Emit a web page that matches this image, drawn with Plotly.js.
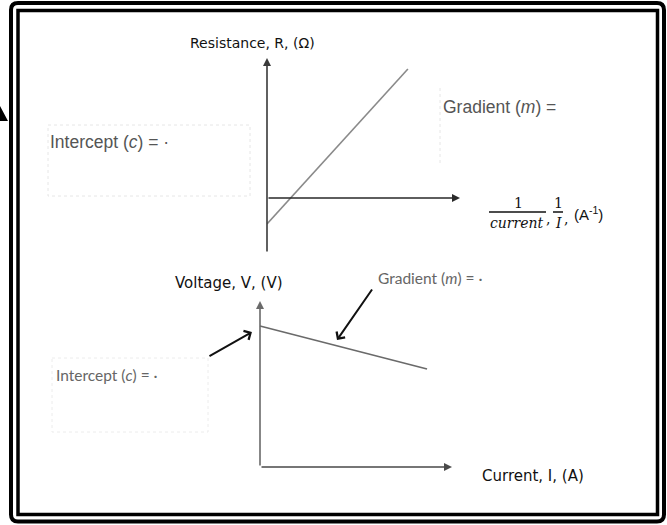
<!DOCTYPE html>
<html><head><meta charset="utf-8">
<script src="https://cdn.plot.ly/plotly-3.0.1.min.js"></script>
<style>html,body{margin:0;padding:0;background:#fff}#chart{width:667px;height:525px}</style>
</head><body><div id="chart"></div>
<script>
// ---- data (sketch units) ----
// Top graph: resistance R against 1/I (straight line, negative intercept)
const resX = [0, 7.3];
const resY = [-1.3, 6.45];
// Bottom graph: terminal voltage V against current I (falling line)
const voltX = [0, 8.7];
const voltY = [8.49, 5.90];
// axis extents (where the arrow tips sit)
const topAxisMaxX = 10, topAxisMaxY = 7, topAxisMinY = -2.75;
const botAxisMaxX = 10, botAxisMaxY = 10;
// pointer arrows on the bottom graph: [tailX, tailY, headX, headY]
const interceptPointer = [-2.71, 6.63, -0.42, 8.13];
const gradientPointer = [5.89, 10.78, 4.01, 7.65];
// texts
const topYLabel = 'Resistance, R, (Ω)';
const botYLabel = 'Voltage, V, (V)';
const botXLabel = 'Current, I, (A)';
const topIntercept = 'Intercept (<i>c</i>) = ·';
const topGradient = 'Gradient (<i>m</i>) =';
const botIntercept = 'Intercept (<i>c</i>) = ·';
const botGradient = 'Gradient (<i>m</i>) = ·';

// ---- helpers: page pixels -> paper fractions ----
const W = 667, H = 525;
const X = px => px / W;
const Y = py => 1 - py / H;

const traces = [
  {x: resX, y: resY, xaxis: 'x', yaxis: 'y', mode: 'lines', cliponaxis: false,
   line: {color: '#8a8a8a', width: 1.6}, hoverinfo: 'skip', showlegend: false},
  {x: voltX, y: voltY, xaxis: 'x2', yaxis: 'y2', mode: 'lines', cliponaxis: false,
   line: {color: '#6a6a6a', width: 1.6}, hoverinfo: 'skip', showlegend: false}
];

function axArrow(xr, yr, x, y, ax, ay, color) {
  return {xref: xr, yref: yr, axref: xr, ayref: yr, x: x, y: y, ax: ax, ay: ay,
    text: '', showarrow: true, arrowhead: 2, arrowsize: 1, arrowwidth: 1.6,
    arrowcolor: color, standoff: 0};
}
function pointer(p) {
  return {xref: 'x2', yref: 'y2', axref: 'x2', ayref: 'y2', x: p[2], y: p[3], ax: p[0], ay: p[1],
    text: '', showarrow: true, arrowhead: 4, arrowsize: 1, arrowwidth: 2,
    arrowcolor: '#111', standoff: 0};
}
function label(txt, px, py, anchor, font) {
  return {xref: 'paper', yref: 'paper', x: X(px), y: Y(py), text: txt, showarrow: false,
    xanchor: anchor, yanchor: 'middle', font: font};
}
const arialGrey = {family: 'Liberation Sans, Arial', size: 17.5, color: '#555'};
const calGrey = {family: 'Lato, Open Sans', size: 15.5, color: '#666'};
const mathFont = {family: 'DejaVu Serif', size: 14, color: '#111'};

const annotations = [
  // top axes
  axArrow('x', 'y', 0, topAxisMaxY, 0, topAxisMinY, '#3a3a3a'),
  axArrow('x', 'y', topAxisMaxX, 0, 0, 0, '#2a2a2a'),
  // bottom axes
  axArrow('x2', 'y2', 0, botAxisMaxY, 0, 0, '#6a6a6a'),
  axArrow('x2', 'y2', botAxisMaxX, 0, 0, 0, '#4a4a4a'),
  pointer(interceptPointer),
  pointer(gradientPointer),
  // labels
  label(topYLabel, 252, 43, 'center', {family: 'DejaVu Sans', size: 14, color: '#111'}),
  label(topIntercept, 48, 142, 'left', arialGrey),
  label(topGradient, 441, 107, 'left', arialGrey),
  label('1', 518, 203, 'center', mathFont),
  label('<i>current</i>', 517, 223, 'center', mathFont),
  label(',', 548, 219, 'center', mathFont),
  label('1', 558, 203, 'center', mathFont),
  label('<i>I</i>', 558, 223, 'center', mathFont),
  label(',', 566, 219, 'center', mathFont),
  label('(A<sup>-1</sup>)', 588, 214, 'center', {family: 'Liberation Sans, Arial', size: 15, color: '#111'}),
  label(botYLabel, 229, 283, 'center', {family: 'DejaVu Sans', size: 15, color: '#111'}),
  label(botGradient, 376, 278, 'left', calGrey),
  label(botIntercept, 54, 375, 'left', calGrey),
  label(botXLabel, 533, 476, 'center', {family: 'DejaVu Sans', size: 15, color: '#111'})
];

function rrPath(x0, y0, x1, y1, r) {
  const p = (a, b) => X(a) + ',' + Y(b);
  return 'M' + p(x0 + r, y0) + ' L' + p(x1 - r, y0) + ' Q' + p(x1, y0) + ' ' + p(x1, y0 + r) +
    ' L' + p(x1, y1 - r) + ' Q' + p(x1, y1) + ' ' + p(x1 - r, y1) +
    ' L' + p(x0 + r, y1) + ' Q' + p(x0, y1) + ' ' + p(x0, y1 - r) +
    ' L' + p(x0, y0 + r) + ' Q' + p(x0, y0) + ' ' + p(x0 + r, y0) + ' Z';
}
const paperLine = (x0, y0, x1, y1, color, w, dash) => ({type: 'line', xref: 'paper', yref: 'paper',
  x0: X(x0), y0: Y(y0), x1: X(x1), y1: Y(y1), line: {color: color, width: w, dash: dash || 'solid'}});
const paperRect = (x0, y0, x1, y1, color, w, dash) => ({type: 'rect', xref: 'paper', yref: 'paper',
  x0: X(x0), y0: Y(y0), x1: X(x1), y1: Y(y1), line: {color: color, width: w, dash: dash || 'solid'}});

const shapes = [
  {type: 'path', xref: 'paper', yref: 'paper', path: rrPath(11, 3, 664, 521.5, 7), line: {color: '#000', width: 4}},
  paperRect(18, 10.5, 657.5, 514.5, '#000', 3.5),
  {type: 'path', xref: 'paper', yref: 'paper',
   path: 'M' + X(0) + ',' + Y(106) + ' L' + X(8) + ',' + Y(121) + ' L' + X(0) + ',' + Y(121) + ' Z',
   fillcolor: '#000', line: {width: 0}},
  // fraction bars
  paperLine(489, 212, 546, 212, '#111', 1.5),
  paperLine(553, 212, 563, 212, '#111', 1.5),
  // faint dotted text boxes
  paperRect(48, 125, 250, 196, '#e6e6e6', 1, 'dot'),
  paperLine(440, 88, 440, 165, '#e6e6e6', 1, 'dot'),
  paperRect(52, 358, 208, 432, '#ececec', 1, 'dot')
];

const hidden = {visible: false, fixedrange: true};
const layout = {
  width: W, height: H, margin: {l: 0, r: 0, t: 0, b: 0},
  paper_bgcolor: '#fff', plot_bgcolor: 'rgba(0,0,0,0)', showlegend: false,
  xaxis: Object.assign({domain: [X(267), X(460)], range: [0, 10], anchor: 'y'}, hidden),
  yaxis: Object.assign({domain: [Y(253), Y(58)], range: [-2.75, 7], anchor: 'x'}, hidden),
  xaxis2: Object.assign({domain: [X(202.4), X(461.6)], range: [-3, 10.5], anchor: 'y2'}, hidden),
  yaxis2: Object.assign({domain: [Y(467), Y(276.1)], range: [0, 11.5], anchor: 'x2'}, hidden),
  annotations: annotations, shapes: shapes
};
Plotly.newPlot('chart', traces, layout, {staticPlot: true, displayModeBar: false});
</script></body></html>
